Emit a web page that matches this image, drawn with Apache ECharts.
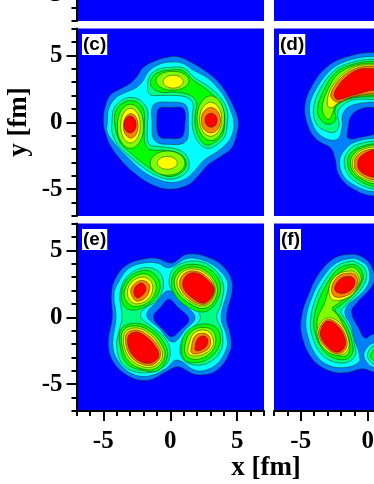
<!DOCTYPE html>
<html><head><meta charset="utf-8">
<style>html,body{margin:0;padding:0;background:#fff}#c{width:374px;height:484px}</style>
<script src="https://cdn.jsdelivr.net/npm/echarts@6/dist/echarts.min.js"></script>
</head><body><div id="c"></div>
<script>
const minorTicks = [-7, 7];
const majorTicks = [-5, 0, 5];
const panelLabels = ['(c)', '(d)', '(e)', '(f)'];
const xTitle = 'x [fm]';
const yTitle = 'y [fm]';
const levelColors = ['#0080ff', '#00ffff', '#00ff80', '#00ff00', '#80ff00', '#ffff00', '#ff8000', '#ff0000', '#0000ff'];

// Contour outlines, in fm: [level, outline]
const panelC = [
 [0, [[-5,0],[-4.9,1],[-4.5,2],[-3.7,2.5],[-3,2.9],[-2.5,3.4],[-2,4.1],[-1.1,4.6],[0,4.9],[.75,4.85],[1.7,4.4],[2.8,3.7],[3.7,2.9],[4.3,2],[4.85,.9],[5.1,0],[5,-.75],[4.6,-1.9],[3.7,-2.6],[2.8,-3.2],[2.1,-4],[1.3,-4.7],[-.15,-5],[-1.5,-4.6],[-2.8,-3.7],[-3.7,-2.8],[-4.5,-1.7],[-4.9,-.6]]],
 [1, [[-4.7,0],[-4.6,1],[-4.1,1.8],[-3.4,2.2],[-2.6,2.55],[-2.1,3],[-1.65,3.75],[-.9,4.3],[0,4.5],[.9,4.4],[1.7,3.9],[2.8,3.3],[3.6,2.5],[4.1,1.8],[4.6,.65],[4.75,0],[4.7,-.7],[4.3,-1.5],[3.5,-2.2],[2.5,-2.85],[1.85,-3.6],[1.1,-4.25],[0,-4.5],[-1.3,-4.1],[-2.25,-3.5],[-3.2,-2.6],[-4.1,-1.65],[-4.7,-.75]]],
 [2, [[-4.35,0],[-4.2,1.05],[-3.6,1.65],[-3,1.85],[-2.25,1.65],[-1.7,.9],[-1.7,0],[-1.7,-1.25],[-1.5,-1.7],[-.5,-1.85],[.75,-2.1],[1.35,-2.75],[1.25,-3.7],[.15,-4.25],[-1,-4],[-2.25,-3.2],[-3.15,-2.45],[-3.95,-1.65],[-4.35,-.75]]],
 [3, [[-4.15,0],[-4,1],[-3.5,1.45],[-3,1.6],[-2.4,1.45],[-1.95,.8],[-1.95,-1],[-1.85,-1.7],[-1.5,-2.05],[-.5,-2.1],[.6,-2.3],[1.15,-2.85],[1.05,-3.55],[.1,-4.05],[-.9,-3.8],[-2.1,-3],[-3,-2.25],[-3.75,-1.5]]],
 [4, [[-2.97,1.35],[-2.27,.87],[-2,-.3],[-2.27,-1.47],[-2.97,-1.95],[-3.67,-1.47],[-3.95,-.3],[-3.67,.87]]],
 [5, [[-2.97,1.05],[-2.45,.67],[-2.24,-.25],[-2.45,-1.17],[-2.97,-1.55],[-3.49,-1.17],[-3.7,-.25],[-3.49,.67]]],
 [6, [[-2.95,.65],[-2.56,.38],[-2.4,-.27],[-2.56,-.92],[-2.95,-1.19],[-3.34,-.92],[-3.5,-.27],[-3.34,.38]]],
 [7, [[-3,.46],[-2.68,.28],[-2.55,-.17],[-2.68,-.62],[-3,-.8],[-3.32,-.62],[-3.45,-.17],[-3.32,.28]]],
 [4, [[-.2,-2.15],[.72,-2.41],[1.1,-3.05],[.72,-3.69],[-.2,-3.95],[-1.12,-3.69],[-1.5,-3.05],[-1.12,-2.41]]],
 [5, [[-.22,-2.55],[.31,-2.69],[.53,-3.03],[.31,-3.37],[-.22,-3.51],[-.75,-3.37],[-.97,-3.03],[-.75,-2.69]]],
 [2, [[-1.7,2.6],[-1.5,3.5],[-.9,3.95],[0,4.1],[1,4.05],[1.85,3.3],[2.75,2.75],[3.75,1.85],[4.25,.9],[4.25,-.2],[4.05,-1.1],[3.45,-1.7],[2.75,-1.95],[2.1,-1.5],[1.7,-.6],[1.65,.5],[1.7,1.4],[1.25,1.85],[.35,2],[-.75,2],[-1.5,2.05]]],
 [3, [[-1.45,2.75],[-1.3,3.4],[-.8,3.75],[0,3.9],[.95,3.85],[1.75,3.1],[2.65,2.5],[3.55,1.65],[4,.75],[4.05,-.2],[3.85,-1],[3.3,-1.5],[2.7,-1.7],[2.25,-1.3],[1.9,-.5],[1.85,.5],[1.95,1.55],[1.4,2.05],[.4,2.25],[-.75,2.25]]],
 [4, [[3.03,1.97],[3.75,1.48],[4.05,.3],[3.75,-.88],[3.03,-1.37],[2.31,-.88],[2,.3],[2.31,1.48]]],
 [5, [[3.02,1.49],[3.6,1.12],[3.85,.22],[3.6,-.68],[3.02,-1.05],[2.44,-.68],[2.19,.22],[2.44,1.12]]],
 [6, [[3.03,1.1],[3.54,.82],[3.75,.15],[3.54,-.52],[3.03,-.8],[2.52,-.52],[2.31,.15],[2.52,.82]]],
 [7, [[3.05,.67],[3.37,.52],[3.5,.15],[3.37,-.22],[3.05,-.37],[2.73,-.22],[2.6,.15],[2.73,.52]]],
 [4, [[.17,3.8],[1.04,3.6],[1.4,3.1],[1.04,2.6],[.17,2.4],[-.7,2.6],[-1.06,3.1],[-.7,3.6]]],
 [5, [[.22,3.51],[.75,3.37],[.97,3.03],[.75,2.69],[.22,2.55],[-.31,2.69],[-.53,3.03],[-.31,3.37]]],
 [0, [[-1.35,1.1],[-1,1.45],[0,1.5],[1,1.4],[1.3,1],[1.35,0],[1.3,-1.2],[.9,-1.6],[0,-1.65],[-.9,-1.55],[-1.3,-1.1],[-1.35,0]]],
 [8, [[-.95,.85],[-.7,1.1],[.1,1.1],[.85,1.1],[1.1,.8],[1.1,-.1],[.95,-1],[.6,-1.2],[-.1,-1.2],[-.7,-1.15],[-.95,-.8],[-1,0]]]
];
const panelD = [
 [0, [[.5,5.2],[-1.15,5],[-2.9,4.25],[-4.15,2.75],[-4.7,1.15],[-4.4,-.45],[-3.75,-1.35],[-2.75,-1.95],[-2.45,-2.7],[-2.15,-3.95],[-1.15,-4.95],[.5,-5.5],[4,-5],[4.5,0],[4,5]]],
 [8, [[.5,1.1],[-.65,.95],[-1.25,.45],[-1.45,-.35],[-1.45,-1.2],[-.4,-1.1],[.5,-.9],[3,-.5],[3,.5]]],
 [1, [[.5,4.9],[-1.15,4.7],[-2.65,4],[-3.85,2.5],[-4.35,1.15],[-4.1,-.2],[-3.5,-1],[-2.65,-1.35],[-2.15,-1.15],[-1.9,-.2],[-1.9,.5],[-1.5,1.1],[-.65,1.4],[.5,1.5],[4,1.5],[4,4.5]]],
 [2, [[.5,4.7],[-1.1,4.5],[-2.5,3.85],[-3.6,2.4],[-4.05,1],[-3.85,-.1],[-3.25,-.6],[-2.5,-.75],[-2.15,-.25],[-2.25,.65],[-2,1.15],[-1.15,1.65],[.5,1.7],[4,1.7],[4,4.5]]],
 [3, [[.5,4.55],[-1.05,4.35],[-2.4,3.7],[-3.35,2.25],[-3.75,.95],[-3.55,.25],[-3,-.15],[-2.4,.15],[-2.45,.9],[-2.15,1.4],[-1.15,1.8],[.5,1.9],[4,1.9],[4,4.5]]],
 [4, [[.5,4.4],[-.95,4.25],[-2.2,3.6],[-3,2.4],[-3.4,1.15],[-3.25,.5],[-2.9,.2],[-2.6,.75],[-2.45,1.2],[-2.15,1.45],[-1.15,1.85],[.5,2],[4,2],[4,4.5]]],
 [5, [[.5,4.3],[-.9,4.15],[-2,3.45],[-2.75,2.5],[-3,1.75],[-2.95,1.15],[-2.65,1.1],[-2.25,1.4],[-1.15,1.9],[.5,2.1],[4,2.1],[4,4.5]]],
 [6, [[.5,4.2],[-.8,4.05],[-1.9,3.4],[-2.6,2.5],[-2.75,1.9],[-2.25,1.5],[-1.15,1.9],[.5,2.15],[4,2.15],[4,4.5]]],
 [7, [[.5,4],[-.65,3.95],[-1.65,3.35],[-2.35,2.5],[-2.5,2],[-2.25,1.7],[-1.15,2],[.5,2.4],[4,2.4],[4,4]]],
 [1, [[.5,-1.2],[-1,-1.5],[-1.75,-2.1],[-2.1,-2.85],[-1.85,-3.95],[-1,-4.7],[.5,-5.2],[4,-5],[4,-1]]],
 [2, [[.5,-1.4],[-.9,-1.7],[-1.5,-2.2],[-1.75,-2.85],[-1.6,-3.7],[-.9,-4.45],[.5,-5],[4,-4.8],[4,-1.2]]],
 [3, [[.5,-1.6],[-.7,-1.9],[-1.35,-2.4],[-1.5,-2.95],[-1.35,-3.65],[-.7,-4.3],[.5,-4.8],[4,-4.6],[4,-1.4]]],
 [4, [[.5,-1.7],[-.6,-2],[-1.15,-2.5],[-1.3,-3.05],[-1.15,-3.6],[-.6,-4.15],[.5,-4.6],[4,-4.4],[4,-1.5]]],
 [5, [[.5,-1.85],[-.5,-2.1],[-1,-2.6],[-1.15,-3.1],[-1,-3.6],[-.5,-4.1],[.5,-4.4],[4,-4.2],[4,-1.7]]],
 [6, [[.5,-2],[-.4,-2.2],[-.9,-2.65],[-1,-3.15],[-.9,-3.55],[-.4,-4],[.5,-4.3],[4,-4.1],[4,-1.9]]],
 [7, [[.5,-2.05],[-.25,-2.35],[-.65,-2.7],[-.75,-3.2],[-.65,-3.55],[-.2,-3.9],[.5,-4.1],[4,-4],[4,-2]]]
];
const panelE = [
 [0, [[-4.4,1.75],[-4.33,0],[-4.63,-1.95],[-4.25,-3.35],[-3.1,-4.4],[-1.65,-4.7],[-.1,-3.95],[.6,-3.7],[2,-4.3],[3.5,-3.95],[4.5,-2.45],[4.5,-1.35],[4.2,0],[4.65,2.4],[4,3.75],[2.75,4.5],[1.25,4.7],[.1,4.05],[-1,4.4],[-2,4.35],[-3.25,3.9],[-4.1,2.9]]],
 [1, [[-4.2,1.75],[-4.05,0],[-4.3,-1.95],[-4,-3.1],[-3,-4.15],[-1.65,-4.4],[-.35,-3.85],[.5,-3.2],[2,-4],[3.35,-3.6],[4.2,-2.35],[4.2,-1.35],[3.8,0],[4.3,2.4],[3.7,3.5],[2.6,4.2],[1.3,4.4],[-.1,3.7],[-1,4.05],[-2,4.05],[-3.1,3.65],[-3.85,2.65]]],
 [0, [[-.1,1.97],[.95,1],[1.85,0],[1.1,-.95],[.2,-1.85],[-.8,-.85],[-1.75,.15],[-1,1.15]]],
 [8, [[-.1,1.35],[.55,.77],[1.4,-.15],[.75,-.97],[.1,-1.45],[-.5,-.97],[-1.25,0],[-.7,.77]]],
 [2, [[-3.75,1.75],[-3.25,3],[-2,3.7],[-.85,3.4],[-.5,2.4],[-1,1.25],[-2.05,.55],[-2.2,0],[-1.5,-.6],[-.35,-1.6],[0,-2.7],[-.5,-3.7],[-2,-4.15],[-3.5,-3.6],[-4,-2.1],[-3.8,-.95],[-3.6,0]]],
 [3, [[-2,3.5],[-1.1,3.15],[-.75,2.25],[-1.25,1.25],[-2.35,.6],[-3.25,.65],[-3.65,1.5],[-3.25,2.8]]],
 [4, [[-2.05,3.25],[-1.3,2.9],[-1.05,2.15],[-1.5,1.25],[-2.45,.8],[-3.1,1],[-3.45,1.75],[-3,2.75]]],
 [5, [[-2.1,3],[-1.5,2.75],[-1.3,2.15],[-1.6,1.4],[-2.45,1],[-3,1.25],[-3.2,1.9],[-2.85,2.65]]],
 [6, [[-2.1,2.75],[-1.6,2.5],[-1.55,2.05],[-1.85,1.45],[-2.5,1.2],[-2.8,1.5],[-2.95,2.05],[-2.6,2.55]]],
 [7, [[-2.1,2.55],[-1.85,2.3],[-1.85,1.95],[-2.2,1.55],[-2.5,1.45],[-2.7,1.75],[-2.65,2.2],[-2.4,2.45]]],
 [3, [[-3.65,-.85],[-2.5,-.45],[-1.3,-.95],[-.5,-1.85],[-.2,-2.85],[-.85,-3.95],[-2,-3.98],[-3.25,-3.45],[-3.75,-2.1]]],
 [4, [[-3.5,-.95],[-2.5,-.65],[-1.45,-1.1],[-.7,-1.95],[-.4,-2.9],[-1.05,-3.8],[-2,-3.88],[-3.1,-3.3],[-3.6,-2.1]]],
 [5, [[-3.35,-1.1],[-2.5,-.8],[-1.55,-1.25],[-.85,-2.05],[-.58,-2.9],[-1.15,-3.63],[-2,-3.7],[-2.95,-3.15],[-3.45,-2.1]]],
 [6, [[-3.25,-1.2],[-2.5,-.95],[-1.65,-1.35],[-.95,-2.1],[-.72,-2.85],[-1.2,-3.5],[-2,-3.55],[-2.85,-3.05],[-3.3,-2.1]]],
 [7, [[-3.1,-1.35],[-2.5,-1.1],[-1.75,-1.5],[-1.1,-2.2],[-.85,-2.85],[-1.25,-3.35],[-2,-3.4],[-2.75,-2.9],[-3.15,-2.1]]],
 [2, [[-.07,2.9],[.35,3.75],[1.75,4.2],[3.1,3.75],[3.95,2.5],[3.8,1],[3.45,0],[3.85,-1],[3.8,-2.45],[2.75,-3.45],[1.35,-3.45],[.75,-2.7],[1,-1.45],[2,-.5],[2.25,0],[2,.5],[1,1.15],[.1,2]]],
 [3, [[.1,2.75],[.6,3.65],[1.75,3.95],[3,3.55],[3.75,2.4],[3.35,1],[2.5,.4],[1.35,.75],[.35,1.65]]],
 [4, [[.3,2.75],[.8,3.5],[1.85,3.75],[2.85,3.3],[3.5,2.25],[3.25,1.15],[2.5,.65],[1.5,1],[.6,1.75]]],
 [5, [[.5,2.7],[.95,3.4],[1.85,3.6],[2.8,3.15],[3.35,2.2],[3.1,1.25],[2.5,.85],[1.55,1.15],[.75,1.9]]],
 [6, [[.7,2.7],[1.1,3.3],[1.85,3.45],[2.7,3.05],[3.3,2.2],[3.05,1.3],[2.5,.95],[1.6,1.25],[.85,2]]],
 [7, [[.95,2.65],[1.3,3.2],[1.95,3.3],[2.6,2.95],[3.25,2.15],[3,1.4],[2.45,1.05],[1.7,1.4],[1.05,2.05]]],
 [3, [[.85,-2],[1.35,-.95],[2.5,-.5],[3.5,-.85],[3.7,-2],[2.85,-3.1],[1.75,-3.4],[1,-3.1]]],
 [4, [[1.1,-2.1],[1.55,-1.1],[2.5,-.75],[3.25,-1.1],[3.35,-2.1],[2.7,-2.9],[1.8,-3.15],[1.2,-2.85]]],
 [5, [[1.35,-2.2],[1.75,-1.2],[2.5,-.95],[3.05,-1.25],[3.2,-2.1],[2.6,-2.7],[1.8,-2.9],[1.35,-2.7]]],
 [6, [[1.55,-2.35],[1.85,-1.4],[2.5,-1.2],[2.95,-1.5],[2.95,-2.2],[2.45,-2.6],[1.8,-2.75],[1.55,-2.6]]],
 [7, [[1.85,-2.35],[2.05,-1.6],[2.55,-1.4],[2.8,-1.7],[2.7,-2.15],[2.3,-2.45],[1.95,-2.5]]]
];
const panelF = [
 [0, [[-1.15,4.7],[-2.5,4.4],[-3.65,3.25],[-4.4,1.75],[-4.95,0],[-4.9,-1.45],[-4.15,-3.1],[-3,-3.95],[-1.65,-4.15],[-.4,-3.85],[.5,-4.1],[4,-4.5],[4,-2],[.5,-1.25],[-.2,-1.55],[-.65,-.85],[-1.2,.4],[-.75,1.15],[0,1.9],[.5,2.75],[.3,3.75],[-.25,4.4]]],
 [1, [[-1.15,4.4],[-2.35,4.05],[-3.35,3],[-4.1,1.65],[-4.6,0],[-4.5,-1.35],[-3.85,-2.85],[-2.9,-3.6],[-1.65,-3.75],[-.65,-3.35],[-.65,-2.7],[-1,-1.6],[-1.25,-.6],[-1.7,.25],[-1.5,.9],[-.9,1.4],[-.15,2.15],[.15,2.9],[0,3.75],[-.5,4.2]]],
 [2, [[-1.15,4.2],[-2.25,3.85],[-3.1,2.9],[-3.85,1.5],[-4.25,0],[-4.2,-1.2],[-3.6,-2.6],[-2.75,-3.25],[-1.65,-3.4],[-.95,-2.9],[-.95,-2.2],[-1.25,-.95],[-1.7,-.1],[-2,.4],[-1.65,.9],[-.65,1.9],[-.1,2.9],[-.25,3.7],[-.65,4]]],
 [3, [[-1.15,3.95],[-2.15,3.65],[-2.9,2.75],[-3.6,1.4],[-4,0],[-3.95,-1.1],[-3.4,-2.35],[-2.65,-3],[-1.65,-3.15],[-1.15,-2.7],[-1.15,-1.95],[-1.5,-.85],[-2,0],[-2.45,.55],[-2,.9],[-.9,1.9],[-.35,2.9],[-.5,3.55],[-.75,3.8]]],
 [4, [[-1.15,3.75],[-2,3.4],[-2.7,2.65],[-3.25,1],[-3.75,-.1],[-3.7,-1.1],[-3.2,-2.2],[-2.5,-2.75],[-1.65,-2.9],[-1.35,-2.45],[-1.4,-1.7],[-1.75,-.75],[-2.25,.15],[-2.65,.65],[-2.25,1],[-1.15,1.8],[-.5,2.75],[-.65,3.35]]],
 [5, [[-1.25,3.45],[-2.25,3.2],[-2.85,2.4],[-2.75,1.4],[-2.15,1.25],[-1.15,1.7],[-.65,2.65],[-.8,3.2]]],
 [6, [[-1.25,3.3],[-2.15,3.1],[-2.65,2.4],[-2.6,1.65],[-2,1.5],[-1.1,1.9],[-.75,2.65],[-.9,3.15]]],
 [7, [[-1.4,3.05],[-2,2.9],[-2.45,2.3],[-2.35,1.9],[-1.75,1.8],[-1.15,2.15],[-.95,2.65],[-1.1,2.95]]],
 [5, [[-3.72,-.75],[-3.05,-.05],[-2.1,-.4],[-1.45,-1.6],[-1.55,-2.55],[-2.4,-2.82],[-3.3,-2.3],[-3.72,-1.5]]],
 [6, [[-3.62,-.85],[-3.05,-.18],[-2.2,-.5],[-1.58,-1.6],[-1.68,-2.45],[-2.4,-2.72],[-3.2,-2.2],[-3.62,-1.5]]],
 [7, [[-3.5,-.95],[-3.05,-.3],[-2.3,-.6],[-1.7,-1.6],[-1.8,-2.35],[-2.4,-2.6],[-3.1,-2.1],[-3.5,-1.45]]],
 [1, [[.5,-1.9],[0,-2.2],[-.3,-2.8],[-.05,-3.4],[.5,-3.75],[3,-3.75],[3,-1.9]]],
 [2, [[.5,-2.15],[.15,-2.4],[-.03,-2.85],[.15,-3.25],[.5,-3.5],[3,-3.5],[3,-2.15]]],
 [3, [[.6,-2.35],[.35,-2.6],[.22,-2.9],[.35,-3.15],[.6,-3.3],[3,-3.3],[3,-2.35]]]
];

const PANEL_W = 187.5, PANEL_H = 187.5;
const colX = [76.5, 274];
const rowY = [-166.5, 28.5, 223.5];
const grids = [], xAxes = [], yAxes = [], series = [];

function renderer(contours) {
  return function (params, api) {
    const c = contours[params.dataIndex];
    return {
      type: 'polygon', z2: params.dataIndex,
      shape: { points: c[1].map(p => api.coord(p)), smooth: 0.38 },
      style: { fill: levelColors[c[0]], stroke: '#1a2a10', lineWidth: 0.5 }
    };
  };
}
function axisPair(list, gridIndex, position, showAxis, dim) {
  const base = { gridIndex, type: 'value', min: minorTicks[0], max: minorTicks[1], position,
                 splitLine: { show: false }, axisPointer: { show: false } };
  list.push(Object.assign({}, base, {
    show: showAxis, interval: 1,
    axisLine: { show: true, onZero: false, lineStyle: { color: '#000', width: 2 } },
    axisTick: { show: true, length: 5, lineStyle: { color: '#000', width: 2 } },
    axisLabel: { show: false }
  }));
  list.push(Object.assign({}, base, {
    show: showAxis,
    axisLine: { show: false, onZero: false },
    axisTick: { show: true, length: 10, customValues: majorTicks, lineStyle: { color: '#000', width: 2 } },
    axisLabel: { show: true, customValues: majorTicks, margin: dim === 'x' ? 18 : 14, color: '#000',
                 fontFamily: 'Liberation Serif', fontWeight: 'bold', fontSize: 25 }
  }));
}
const layout = [
  [0, 0, null], [0, 1, null],
  [1, 0, panelC], [1, 1, panelD],
  [2, 0, panelE], [2, 1, panelF]
];
layout.forEach(([r, c, contours], i) => {
  grids.push({ left: colX[c], top: rowY[r], width: PANEL_W, height: PANEL_H, show: true,
               backgroundColor: '#0000ff', borderWidth: 0, containLabel: false, outerBoundsMode: 'none' });
  axisPair(xAxes, i, 'bottom', r === 2, 'x');
  axisPair(yAxes, i, 'left', c === 0, 'y');
  if (contours) series.push({
    type: 'custom', coordinateSystem: 'cartesian2d',
    xAxisIndex: i * 2, yAxisIndex: i * 2, silent: true, animation: false, clip: true,
    data: contours.map(k => k[1][0]), renderItem: renderer(contours)
  });
});
const labelStyle = { fontFamily: 'Liberation Sans', fontWeight: 'bold', fontSize: 19, color: '#000' };
const labelPos = [[82, 34], [279, 34], [82, 229], [280, 229]];
const titles = panelLabels.map((t, i) => ({
  text: t, left: labelPos[i][0], top: labelPos[i][1], padding: [1, 1, 1, 1],
  backgroundColor: '#fff', textStyle: labelStyle
}));
titles.push({ text: xTitle, left: 266, textAlign: 'center', top: 455, padding: 0,
  textStyle: { fontFamily: 'Liberation Serif', fontWeight: 'bold', fontSize: 27, color: '#000' } });

const chart = echarts.init(document.getElementById('c'), null, { renderer: 'canvas' });
chart.setOption({
  animation: false, backgroundColor: '#fff', title: titles,
  grid: grids, xAxis: xAxes, yAxis: yAxes, series,
  graphic: [{ type: 'text', x: 19, y: 122, rotation: Math.PI / 2, silent: true,
    style: { text: yTitle, fill: '#000', align: 'center', verticalAlign: 'middle',
             font: 'bold 27px "Liberation Serif"' } }]
});
</script></body></html>
